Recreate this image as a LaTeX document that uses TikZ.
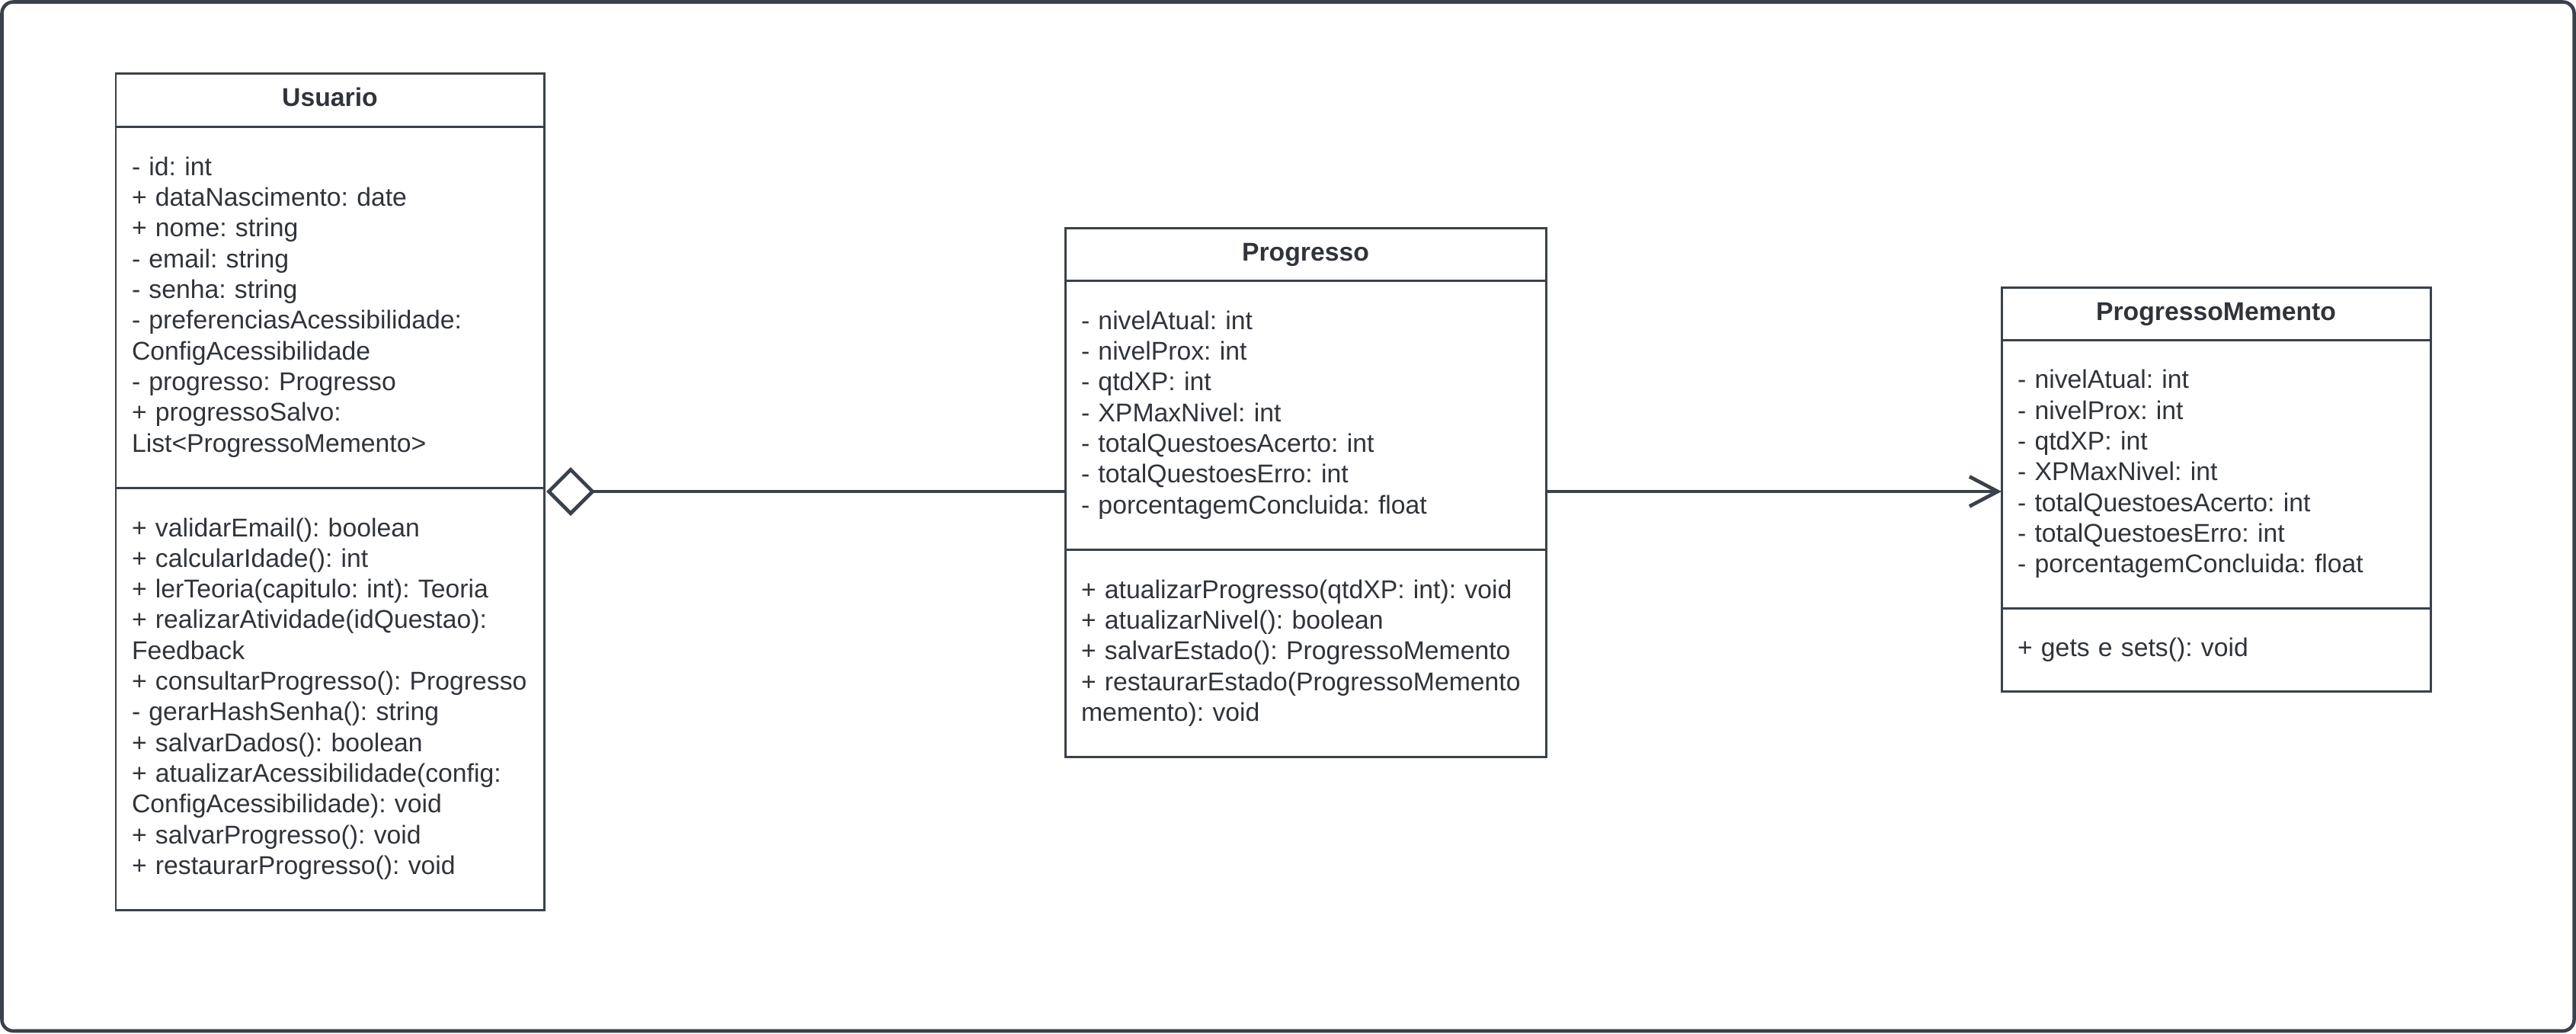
\documentclass[tikz,border=0pt]{standalone}
\usepackage{fontspec}
\setmainfont{Liberation Sans}
\usepackage{tikz}
\usetikzlibrary{positioning,arrows.meta}
\definecolor{umlline}{HTML}{3A414A}
\definecolor{umltext}{HTML}{30343A}
\frenchspacing
\hyphenpenalty=10000
\exhyphenpenalty=10000

\begin{document}
\begin{tikzpicture}[
    frame/.style={draw=umlline, line width=1.3pt, rounded corners=0.15cm},
    classhead/.style={draw=umlline, line width=0.85pt, outer sep=0pt, inner sep=0pt, text height=0.72em, text depth=0.21em, font=\fontsize{9.6pt}{11.47pt}\selectfont\bfseries, text=umltext},
    classsec/.style={draw=umlline, line width=0.85pt, outer sep=0pt, inner xsep=0.21cm, inner ysep=0pt, align=left, font=\fontsize{9.6pt}{11.47pt}\selectfont, text=umltext},
    aggr/.style={{Diamond[open, length=0.64cm, width=0.64cm]}-, shorten <=0.03cm, line width=1.35pt, draw=umlline},
    assoc/.style={-{Straight Barb[length=0.37cm, width=0.39cm]}, line width=1.35pt, draw=umlline},
    node distance=0pt
]
\useasboundingbox (0,0) rectangle (33.81,-13.56);
\draw[frame] (0.025,-0.025) rectangle (33.785,-13.53);

% Usuario
\node[classhead, anchor=north west, minimum width=5.62cm, minimum height=0.70cm] (usuarioHead) at (1.52,-0.96) {Usuario};
\node[classsec, below=of usuarioHead, minimum width=5.62cm, text width=5.20cm, minimum height=4.74cm] (usuarioAttr) {- id: int\\+ dataNascimento: date\\+ nome: string\\- email: string\\- senha: string\\- preferenciasAcessibilidade:\\ConfigAcessibilidade\\- progresso: Progresso\\+ progressoSalvo:\\List<ProgressoMemento>};
\node[classsec, below=of usuarioAttr, minimum width=5.62cm, text width=5.20cm, minimum height=5.54cm] (usuarioMeth) {+ validarEmail(): boolean\\+ calcularIdade(): int\\+ lerTeoria(capitulo: int): Teoria\\+ realizarAtividade(idQuestao):\\Feedback\\+ consultarProgresso(): Progresso\\- gerarHashSenha(): string\\+ salvarDados(): boolean\\+ atualizarAcessibilidade(config:\\ConfigAcessibilidade): void\\+ salvarProgresso(): void\\+ restaurarProgresso(): void};

% Progresso
\node[classhead, anchor=north west, minimum width=6.31cm, minimum height=0.69cm] (progHead) at (13.98,-2.99) {Progresso};
\node[classsec, below=of progHead, minimum width=6.31cm, text width=5.89cm, minimum height=3.53cm] (progAttr) {- nivelAtual: int\\- nivelProx: int\\- qtdXP: int\\- XPMaxNivel: int\\- totalQuestoesAcerto: int\\- totalQuestoesErro: int\\- porcentagemConcluida: float};
\node[classsec, below=of progAttr, minimum width=6.31cm, text width=5.89cm, minimum height=2.72cm] (progMeth) {+ atualizarProgresso(qtdXP: int): void\\+ atualizarNivel(): boolean\\+ salvarEstado(): ProgressoMemento\\+ restaurarEstado(ProgressoMemento\\memento): void};

% ProgressoMemento
\node[classhead, anchor=north west, minimum width=5.63cm, minimum height=0.69cm] (mementoHead) at (26.27,-3.77) {ProgressoMemento};
\node[classsec, below=of mementoHead, minimum width=5.63cm, text width=5.21cm, minimum height=3.52cm] (mementoAttr) {- nivelAtual: int\\- nivelProx: int\\- qtdXP: int\\- XPMaxNivel: int\\- totalQuestoesAcerto: int\\- totalQuestoesErro: int\\- porcentagemConcluida: float};
\node[classsec, below=of mementoAttr, minimum width=5.63cm, text width=5.21cm, minimum height=1.09cm] (mementoMeth) {+ gets e sets(): void};

% Links
\coordinate (link) at (0,-6.45);
\draw[aggr] (usuarioAttr.east |- link) -- (progAttr.west |- link);
\draw[assoc] (progAttr.east |- link) -- (mementoAttr.west |- link);
\end{tikzpicture}
\end{document}
